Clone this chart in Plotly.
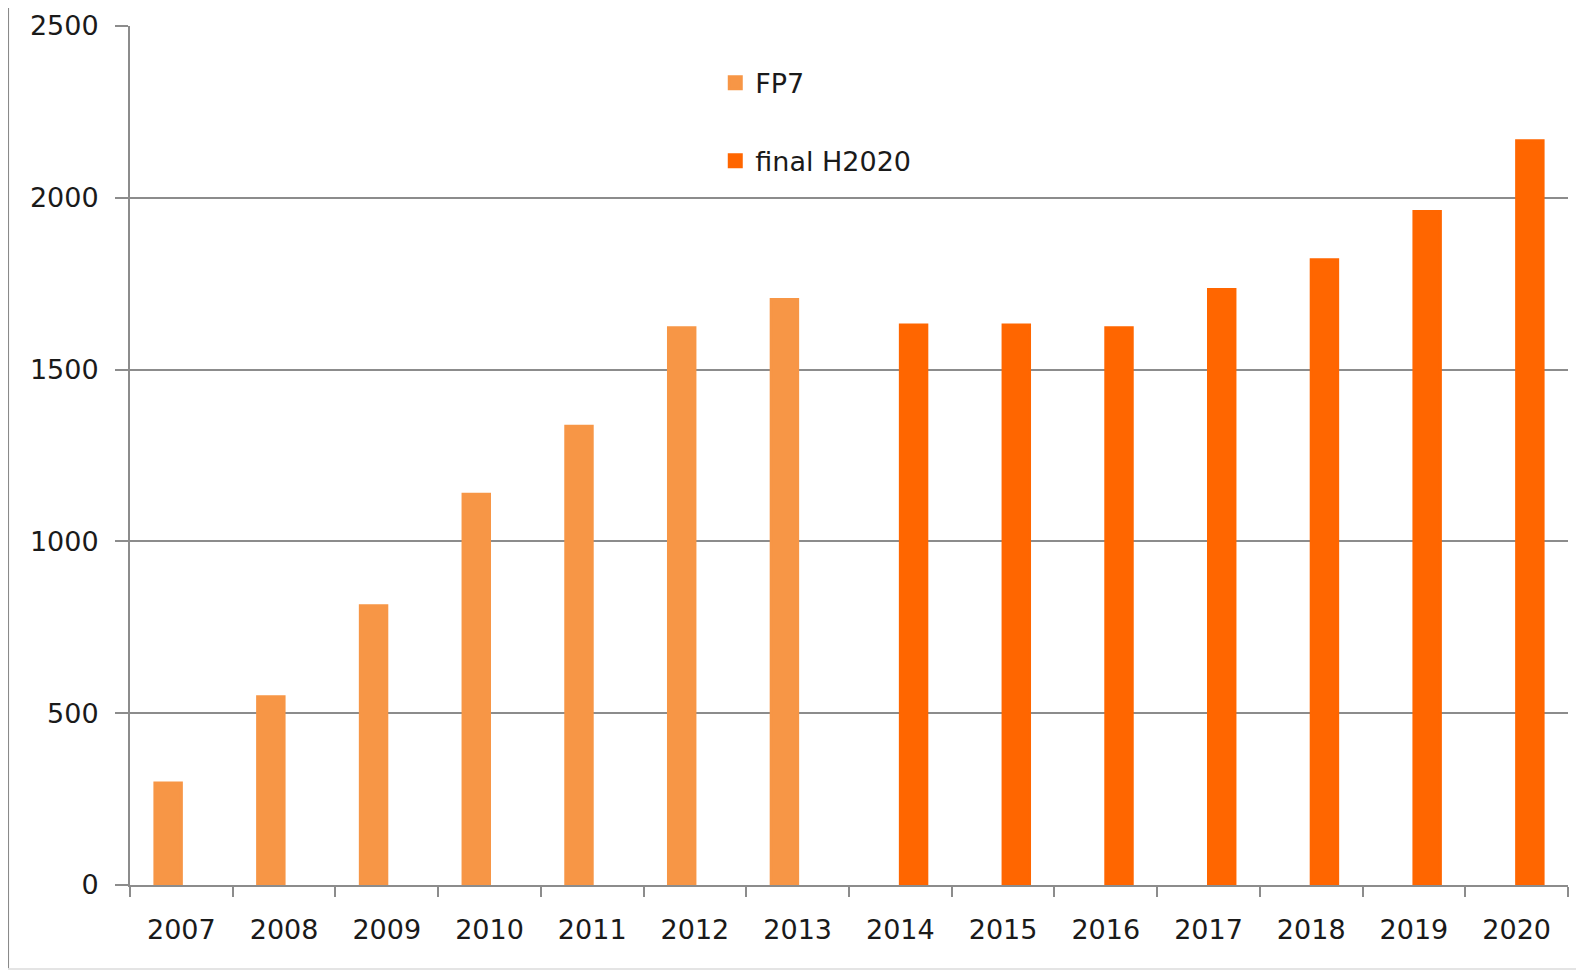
import plotly.graph_objects as go

years = ["2007", "2008", "2009", "2010", "2011", "2012", "2013",
         "2014", "2015", "2016", "2017", "2018", "2019", "2020"]
fp7 = [297, 548, 813, 1137, 1335, 1622, 1704,
       None, None, None, None, None, None, None]
h2020 = [None, None, None, None, None, None, None,
         1630, 1630, 1622, 1733, 1820, 1960, 2166]
y_ticks = [0, 500, 1000, 1500, 2000, 2500]

FONT = "DejaVu Sans"
GRID = "#8c8c8c"

fig = go.Figure()
fig.add_trace(go.Bar(x=years, y=fp7, name="FP7", marker_color="#F79646",
                     marker_line=dict(color="#F79646", width=3),
                     legendgroup="a"))
fig.add_trace(go.Bar(x=years, y=h2020, name="final H2020", marker_color="#FF6600",
                     marker_line=dict(color="#FF6600", width=3),
                     legendgroup="b"))

fig.update_layout(
    width=1584, height=970,
    margin=dict(l=122, r=24, t=18, b=93, autoexpand=False),
    paper_bgcolor="white", plot_bgcolor="white",
    barmode="group", bargap=0.485, bargroupgap=0,
    font=dict(family=FONT, size=27, color="#1a1a1a"),
    showlegend=True,
    legend=dict(x=0.407, y=0.962, xanchor="left", yanchor="top",
                bgcolor="rgba(0,0,0,0)", tracegroupgap=40,
                traceorder="grouped", font=dict(size=27)),
    xaxis=dict(type="category", showline=True, linecolor=GRID, linewidth=2,
               ticks="outside", tickson="boundaries", ticklen=10, tickwidth=2,
               tickcolor=GRID, showgrid=False, ticklabelstandoff=20,
               automargin=False),
    yaxis=dict(range=[0, 2500], tickvals=y_ticks, showline=True, linecolor=GRID,
               linewidth=2, ticks="outside", ticklen=13, tickwidth=2, tickcolor=GRID,
               showgrid=True, gridcolor=GRID, gridwidth=2, zeroline=False,
               ticklabelstandoff=11, automargin=False),
    shapes=[
        dict(type="line", xref="paper", yref="paper", x0=-0.0848, x1=-0.0848,
             y0=-0.0978, y1=1.04, line=dict(color="#8a8a8a", width=2)),
        dict(type="line", xref="paper", yref="paper", x0=-0.0848, x1=1.02,
             y0=-0.0978, y1=-0.0978, line=dict(color="#e4e4e4", width=2)),
    ],
)

fig.write_html("out.html")
